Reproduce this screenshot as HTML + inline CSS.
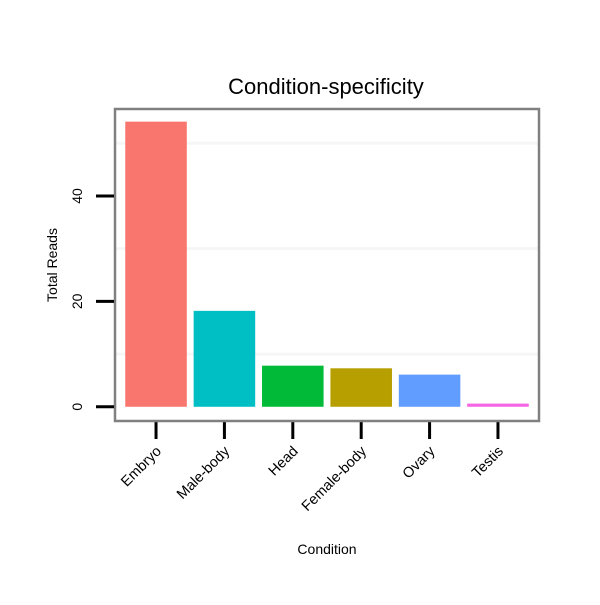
<!DOCTYPE html>
<html><head><meta charset="utf-8"><style>
body{margin:0;background:#fff;}
text{font-family:"Liberation Sans",Arial,sans-serif;}
</style></head><body>
<svg id="chart" width="600" height="600" xmlns="http://www.w3.org/2000/svg"></svg>
<script>
const categories = ["Embryo","Male-body","Head","Female-body","Ovary","Testis"];
const values = [54.1, 18.2, 7.8, 7.3, 6.1, 0.6];
const colors = ["#F8766D","#00BFC4","#00BA38","#B79F00","#619CFF","#F564E3"];
const yTicks = [0, 20, 40];
const gridVals = [10, 30, 50];

const svg = document.getElementById('chart');
const NS = "http://www.w3.org/2000/svg";
const P = {l:115, r:539, t:109, b:421};
const yMin = -2.7, yMax = 56.5;
function y(v){ return P.b - (v - yMin) / (yMax - yMin) * (P.b - P.t); }
const band = (P.r - P.l) / (categories.length + 0.2);
function xc(i){ return P.l + band * (0.6 + i); }
function el(tag, attrs, name, txt){
  const e = document.createElementNS(NS, tag);
  for (const k in attrs) e.setAttribute(k, attrs[k]);
  
  
  if (txt !== undefined) e.textContent = txt;
  svg.appendChild(e); return e;
}
el('text', {x:326, y:94, 'font-size':22, 'text-anchor':'middle'}, 'chart-title', 'Condition-specificity');
gridVals.forEach(v => {
  el('line', {x1:P.l, x2:P.r, y1:y(v), y2:y(v), stroke:'#f6f6f6', 'stroke-width':3}, 'grid-line');
});
categories.forEach((c, i) => {
  el('rect', {x:xc(i) - band*0.45, y:y(values[i]), width:band*0.9, height:y(0) - y(values[i]), fill:colors[i]}, 'bar-' + c.toLowerCase());
  el('line', {x1:xc(i), x2:xc(i), y1:P.b + 1, y2:P.b + 18, stroke:'#000', 'stroke-width':3}, 'x-tick');
  const tx = xc(i) + 6, ty = P.b + 31;
  el('text', {x:tx, y:ty, 'font-size':14.5, 'text-anchor':'end', transform:`rotate(-45 ${tx} ${ty})`}, 'x-tick-label', c);
});
el('rect', {x:P.l, y:P.t, width:P.r - P.l, height:P.b - P.t, fill:'none', stroke:'#808080', 'stroke-width':2.5}, 'panel-border');
yTicks.forEach(v => {
  el('line', {x1:96, x2:P.l - 1, y1:y(v), y2:y(v), stroke:'#000', 'stroke-width':3}, 'y-tick');
  el('text', {x:82, y:y(v), 'font-size':14, 'text-anchor':'middle', transform:`rotate(-90 82 ${y(v)})`}, 'y-tick-label', String(v));
});
el('text', {x:57, y:265, 'font-size':14, 'text-anchor':'middle', transform:'rotate(-90 57 265)'}, 'y-axis-title', 'Total Reads');
el('text', {x:327, y:554, 'font-size':14, 'text-anchor':'middle'}, 'x-axis-title', 'Condition');
</script>
</body></html>
